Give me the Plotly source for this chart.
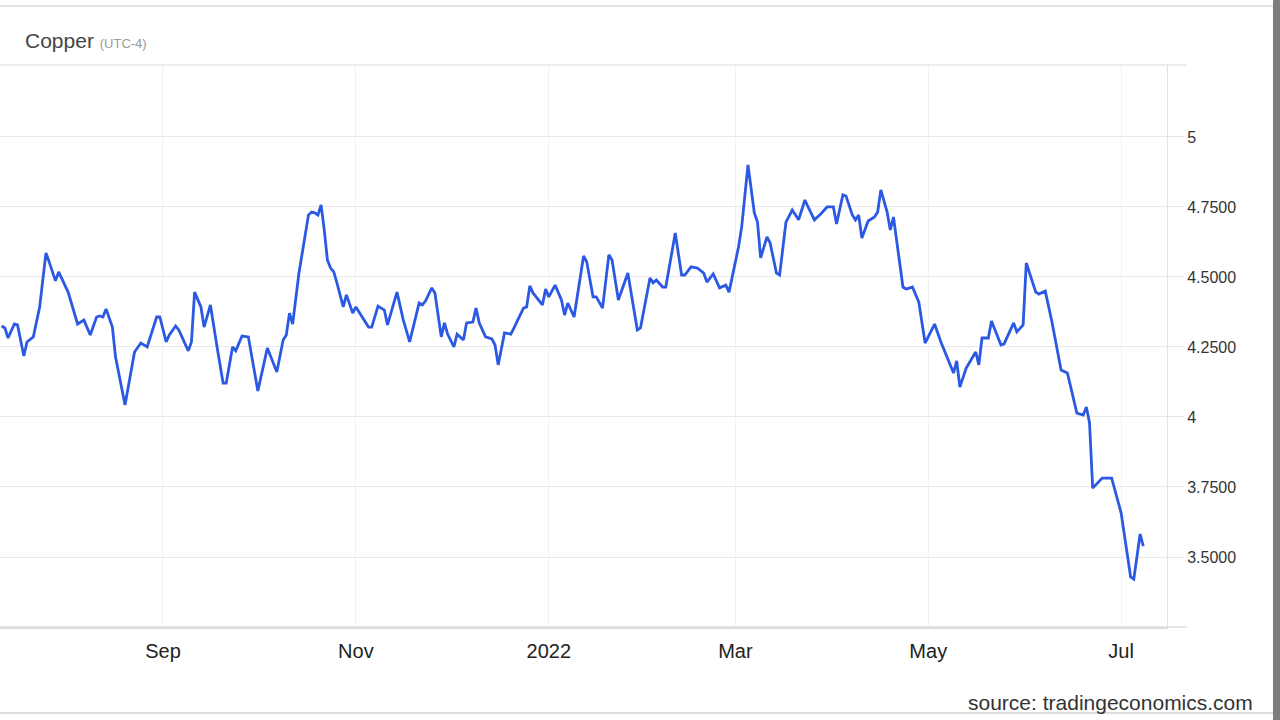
import plotly.graph_objects as go

dates = [
    "2021-07-12", "2021-07-13", "2021-07-14", "2021-07-16", "2021-07-17", "2021-07-19", "2021-07-20",
    "2021-07-22", "2021-07-24", "2021-07-26", "2021-07-27", "2021-07-29", "2021-07-30", "2021-08-02",
    "2021-08-05", "2021-08-07", "2021-08-09", "2021-08-11", "2021-08-12", "2021-08-13", "2021-08-14",
    "2021-08-16", "2021-08-17", "2021-08-20", "2021-08-23", "2021-08-25", "2021-08-27", "2021-08-30",
    "2021-08-31", "2021-09-02", "2021-09-03", "2021-09-05", "2021-09-06", "2021-09-09", "2021-09-10",
    "2021-09-11", "2021-09-13", "2021-09-14", "2021-09-16", "2021-09-17", "2021-09-18", "2021-09-20",
    "2021-09-21", "2021-09-23", "2021-09-24", "2021-09-26", "2021-09-28", "2021-09-29", "2021-10-01",
    "2021-10-04", "2021-10-07", "2021-10-09", "2021-10-10", "2021-10-11", "2021-10-12", "2021-10-14",
    "2021-10-17", "2021-10-18", "2021-10-19", "2021-10-20", "2021-10-21", "2021-10-22", "2021-10-23",
    "2021-10-24", "2021-10-25", "2021-10-26", "2021-10-28", "2021-10-29", "2021-10-31", "2021-11-01",
    "2021-11-02", "2021-11-05", "2021-11-06", "2021-11-08", "2021-11-10", "2021-11-11", "2021-11-14",
    "2021-11-16", "2021-11-18", "2021-11-21", "2021-11-22", "2021-11-23", "2021-11-25", "2021-11-26",
    "2021-11-28", "2021-11-29", "2021-11-30", "2021-12-02", "2021-12-03", "2021-12-05", "2021-12-06",
    "2021-12-08", "2021-12-09", "2021-12-10", "2021-12-12", "2021-12-14", "2021-12-15", "2021-12-16",
    "2021-12-18", "2021-12-20", "2021-12-21", "2021-12-24", "2021-12-25", "2021-12-26", "2021-12-27",
    "2021-12-30", "2021-12-31", "2022-01-01", "2022-01-03", "2022-01-05", "2022-01-06", "2022-01-07",
    "2022-01-09", "2022-01-12", "2022-01-13", "2022-01-15", "2022-01-16", "2022-01-18", "2022-01-20",
    "2022-01-21", "2022-01-23", "2022-01-26", "2022-01-29", "2022-01-30", "2022-02-02", "2022-02-03",
    "2022-02-04", "2022-02-06", "2022-02-07", "2022-02-10", "2022-02-12", "2022-02-13", "2022-02-15",
    "2022-02-17", "2022-02-19", "2022-02-20", "2022-02-22", "2022-02-24", "2022-02-26", "2022-02-27",
    "2022-03-02", "2022-03-03", "2022-03-05", "2022-03-07", "2022-03-08", "2022-03-09", "2022-03-11",
    "2022-03-12", "2022-03-14", "2022-03-15", "2022-03-17", "2022-03-19", "2022-03-21", "2022-03-23",
    "2022-03-24", "2022-03-26", "2022-03-28", "2022-03-30", "2022-04-01", "2022-04-02", "2022-04-04",
    "2022-04-05", "2022-04-07", "2022-04-08", "2022-04-09", "2022-04-10", "2022-04-12", "2022-04-14",
    "2022-04-15", "2022-04-16", "2022-04-18", "2022-04-19", "2022-04-20", "2022-04-23", "2022-04-24",
    "2022-04-26", "2022-04-28", "2022-04-30", "2022-05-03", "2022-05-05", "2022-05-09", "2022-05-10",
    "2022-05-11", "2022-05-13", "2022-05-16", "2022-05-17", "2022-05-18", "2022-05-20", "2022-05-21",
    "2022-05-24", "2022-05-25", "2022-05-28", "2022-05-29", "2022-05-31", "2022-06-01", "2022-06-04",
    "2022-06-05", "2022-06-07", "2022-06-09", "2022-06-12", "2022-06-14", "2022-06-15", "2022-06-17",
    "2022-06-19", "2022-06-20", "2022-06-21", "2022-06-22", "2022-06-25", "2022-06-28", "2022-07-01",
    "2022-07-04", "2022-07-05", "2022-07-07", "2022-07-08",
]

prices = [
    4.325, 4.318, 4.282, 4.332, 4.329, 4.218, 4.268,
    4.286, 4.393, 4.586, 4.554, 4.486, 4.518, 4.446,
    4.332, 4.346, 4.293, 4.357, 4.361, 4.357, 4.386,
    4.321, 4.214, 4.043, 4.232, 4.264, 4.250, 4.357,
    4.357, 4.268, 4.293, 4.325, 4.311, 4.236, 4.268,
    4.446, 4.393, 4.321, 4.400, 4.321, 4.257, 4.121,
    4.121, 4.250, 4.236, 4.289, 4.286, 4.221, 4.093,
    4.246, 4.161, 4.275, 4.293, 4.371, 4.332, 4.514,
    4.721, 4.732, 4.729, 4.721, 4.757, 4.668, 4.561,
    4.532, 4.518, 4.479, 4.393, 4.436, 4.371, 4.393,
    4.375, 4.321, 4.321, 4.396, 4.382, 4.329, 4.446,
    4.346, 4.268, 4.407, 4.400, 4.414, 4.461, 4.443,
    4.286, 4.336, 4.296, 4.250, 4.296, 4.275, 4.336,
    4.339, 4.389, 4.336, 4.286, 4.279, 4.257, 4.186,
    4.300, 4.296, 4.318, 4.389, 4.393, 4.468, 4.443,
    4.400, 4.457, 4.429, 4.471, 4.418, 4.364, 4.407,
    4.357, 4.575, 4.554, 4.429, 4.429, 4.389, 4.579,
    4.561, 4.418, 4.514, 4.311, 4.318, 4.496, 4.479,
    4.489, 4.464, 4.464, 4.657, 4.507, 4.507, 4.536,
    4.532, 4.514, 4.482, 4.511, 4.461, 4.471, 4.446,
    4.607, 4.679, 4.900, 4.729, 4.696, 4.568, 4.643,
    4.621, 4.514, 4.507, 4.696, 4.739, 4.704, 4.775,
    4.750, 4.704, 4.725, 4.750, 4.750, 4.689, 4.793,
    4.789, 4.721, 4.704, 4.721, 4.639, 4.700, 4.714,
    4.732, 4.811, 4.732, 4.668, 4.714, 4.464, 4.457,
    4.464, 4.411, 4.264, 4.332, 4.268, 4.157, 4.200,
    4.107, 4.175, 4.232, 4.186, 4.282, 4.282, 4.343,
    4.257, 4.261, 4.336, 4.304, 4.329, 4.550, 4.446,
    4.439, 4.450, 4.346, 4.168, 4.157, 4.107, 4.014,
    4.007, 4.036, 3.979, 3.746, 3.782, 3.782, 3.657,
    3.429, 3.421, 3.582, 3.539,
]

x_tick_vals = ["2021-09-01", "2021-11-01", "2022-01-01", "2022-03-01", "2022-05-01", "2022-07-01"]
x_tick_text = ["Sep", "Nov", "2022", "Mar", "May", "Jul"]
y_tick_vals = [3.5, 3.75, 4.0, 4.25, 4.5, 4.75, 5.0]
y_tick_text = ["3.5000", "3.7500", "4", "4.2500", "4.5000", "4.7500", "5"]

W, H = 1280, 720
ML, MR, MT, MB = 0, 113, 65, 93
PW = W - ML - MR
PH = H - MT - MB


def px_x(px):
    return (px - ML) / PW


def px_y(py):
    return (H - MB - py) / PH


fig = go.Figure()
fig.add_trace(go.Scatter(
    x=dates, y=prices, mode="lines",
    line=dict(color="#2b59e3", width=2.8),
    hoverinfo="x+y", showlegend=False,
))

font_family = "Liberation Sans, Arial, sans-serif"

fig.update_layout(
    width=W, height=H,
    margin=dict(l=ML, r=MR, t=MT, b=MB, pad=0),
    paper_bgcolor="white", plot_bgcolor="white",
    font=dict(family=font_family, color="#222"),
    xaxis=dict(
        type="date",
        range=["2021-07-11 11:00", "2022-07-15 12:00"],
        tickvals=x_tick_vals, ticktext=x_tick_text,
        showgrid=True, gridcolor="#f1f1f1", gridwidth=1,
        showline=True, linecolor="#dcdcdc", linewidth=1.5,
        ticks="outside", ticklen=5, tickcolor="rgba(0,0,0,0)",
        tickfont=dict(size=20, color="#222"),
        zeroline=False, fixedrange=True,
    ),
    yaxis=dict(
        range=[3.25, 5.257],
        side="right",
        tickvals=y_tick_vals, ticktext=y_tick_text,
        showgrid=True, gridcolor="#e9e9e9", gridwidth=1,
        showline=True, linecolor="#e3e3e3", linewidth=1,
        ticks="outside", ticklen=16, tickcolor="#e6e6e6",
        tickfont=dict(size=16, color="#333"),
        zeroline=False, fixedrange=True,
    ),
    shapes=[
        dict(type="line", xref="paper", yref="paper", x0=0, x1=px_x(1273),
             y0=px_y(6), y1=px_y(6), line=dict(color="#e2e2e2", width=2)),
        dict(type="line", xref="paper", yref="paper", x0=0, x1=px_x(1187),
             y0=1, y1=1, line=dict(color="#e6e6e6", width=1.5)),
        dict(type="line", xref="paper", yref="paper", x0=0, x1=px_x(1187),
             y0=0, y1=0, line=dict(color="#dcdcdc", width=1.5)),
        dict(type="line", xref="paper", yref="paper", x0=0, x1=px_x(1273),
             y0=px_y(713), y1=px_y(713), line=dict(color="#dedede", width=2)),
        dict(type="rect", xref="paper", yref="paper", x0=px_x(1273), x1=px_x(1281),
             y0=px_y(721), y1=px_y(-1), fillcolor="#7d7d7d", line=dict(width=0)),
    ],
    annotations=[
        dict(xref="paper", yref="paper", x=px_x(23), y=px_y(40),
             xanchor="left", yanchor="middle", showarrow=False,
             text="Copper <span style='font-size:13px;color:#9a9a9a'>(UTC-4)</span>",
             font=dict(size=21, color="#444", family=font_family)),
        dict(xref="paper", yref="paper", x=px_x(1255), y=px_y(702),
             xanchor="right", yanchor="middle", showarrow=False,
             text="source: tradingeconomics.com",
             font=dict(size=21, color="#333", family=font_family)),
    ],
)

fig.write_html(
    "out.html",
    config={"displayModeBar": False},
    post_script="document.body.style.margin='0';document.body.style.overflow='hidden';",
)
